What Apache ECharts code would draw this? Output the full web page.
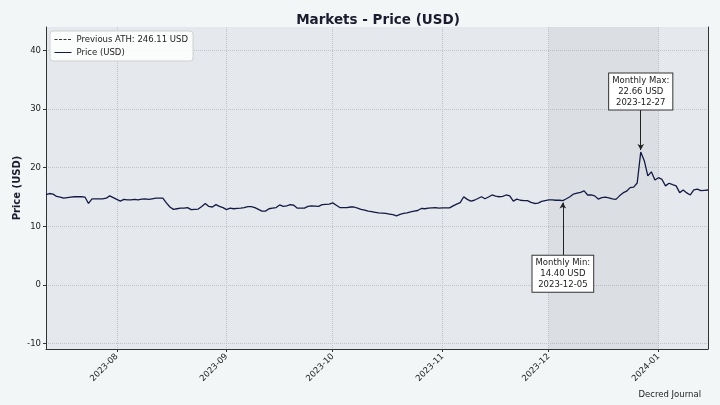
<!DOCTYPE html>
<html><head><meta charset="utf-8">
<script src="https://cdn.jsdelivr.net/npm/echarts@6/dist/echarts.min.js"></script>
<style>html,body{margin:0;padding:0;background:#f3f6f7;}#c{width:720px;height:405px;}</style>
</head><body><div id="c"></div>
<script>
// Daily prices (USD) starting 2023-07-12
const startDate = [2023, 6, 12];
const priceValues = [
 15.4, 15.6, 15.5, 15.1, 15.0, 14.8, 14.9, 15.0, 15.05, 15.05,
 15.05, 15.0, 13.9, 14.7, 14.7, 14.7, 14.7, 14.8, 15.2, 14.9,
 14.6, 14.3, 14.6, 14.5, 14.5, 14.6, 14.5, 14.65, 14.7, 14.6,
 14.7, 14.8, 14.8, 14.8, 14.0, 13.3, 12.9, 13.0, 13.1, 13.1,
 13.2, 12.85, 12.9, 12.95, 13.4, 13.9, 13.4, 13.3, 13.7, 13.4,
 13.2, 12.85, 13.1, 13.0, 13.05, 13.1, 13.2, 13.35, 13.35, 13.2,
 12.9, 12.6, 12.6, 13.0, 13.1, 13.2, 13.65, 13.4, 13.5, 13.7,
 13.6, 13.1, 13.1, 13.1, 13.4, 13.5, 13.45, 13.4, 13.7, 13.75,
 13.8, 14.0, 13.6, 13.2, 13.2, 13.2, 13.3, 13.3, 13.1, 12.9,
 12.75, 12.6, 12.5, 12.4, 12.3, 12.25, 12.2, 12.1, 12.0, 11.8,
 12.05, 12.2, 12.3, 12.45, 12.6, 12.7, 13.05, 13.0, 13.1, 13.15,
 13.2, 13.1, 13.15, 13.15, 13.15, 13.5, 13.8, 14.05, 15.05, 14.6,
 14.3, 14.45, 14.75, 15.05, 14.7, 15.0, 15.35, 15.15, 15.05, 15.1,
 15.35, 15.2, 14.3, 14.65, 14.45, 14.4, 14.4, 14.1, 13.9, 13.95,
 14.25, 14.4, 14.5, 14.5, 14.45, 14.45, 14.40, 14.7, 15.05, 15.5,
 15.65, 15.8, 16.05, 15.35, 15.35, 15.2, 14.65, 14.9, 15.0, 14.85,
 14.7, 14.6, 15.2, 15.7, 16.0, 16.6, 16.7, 17.4, 22.66, 21.2,
 18.6, 19.3, 17.9, 18.3, 18.0, 16.9, 17.35, 17.1, 16.9, 15.75,
 16.2, 15.7, 15.35, 16.2, 16.35, 16.1, 16.15, 16.2
];
const previousATH = 246.11;
const xTickLabels = ['2023-08', '2023-09', '2023-10', '2023-11', '2023-12', '2024-01'];
const yTickValues = [-10, 0, 10, 20, 30, 40];
const maxPoint = { date: '2023-12-27', value: 22.66 };
const minPoint = { date: '2023-12-05', value: 14.40 };
const shadeMonth = ['2023-12-01', '2024-01-01'];

function ts(s) { const p = s.split('-').map(Number); return new Date(p[0], p[1] - 1, p[2] || 1).getTime(); }
const priceData = priceValues.map((v, i) => [new Date(startDate[0], startDate[1], startDate[2] + i).getTime(), v]);
const xMin = priceData[0][0], xMax = priceData[priceData.length - 1][0];
const xTicks = xTickLabels.map(ts);
const athData = [[xMin, previousATH], [xMax, previousATH]];

const chart = echarts.init(document.getElementById('c'), null, { renderer: 'canvas' });
const font = 'DejaVu Sans';
const gridColor = '#c0c4cb';
chart.setOption({
  backgroundColor: '#f3f6f7',
  animation: false,
  textStyle: { fontFamily: font },
  title: { text: 'Markets - Price (USD)', left: 373, top: 8, textAlign: 'center',
    textStyle: { fontFamily: font, fontSize: 13.5, fontWeight: 'bold', color: '#1c1c2e' } },
  grid: { left: 46, right: 12, top: 27, bottom: 56, show: true, backgroundColor: '#e5e8ec', borderWidth: 0,
    outerBoundsMode: 'none', containLabel: false },
  legend: {
    orient: 'vertical', left: 50, top: 31, backgroundColor: 'rgba(255,255,255,0.85)',
    borderColor: '#d0d0d0', borderWidth: 1, borderRadius: 3, padding: [4, 5, 4, 4], itemGap: 4,
    itemWidth: 17, itemHeight: 8, itemStyle: { opacity: 0 }, lineStyle: { width: 1 },
    textStyle: { fontFamily: font, fontSize: 8.5, color: '#222' },
    data: ['Previous ATH: 246.11 USD', 'Price (USD)']
  },
  xAxis: {
    type: 'value', min: xMin, max: xMax, scale: true,
    axisLine: { show: true, onZero: false, lineStyle: { color: '#333', width: 1 } },
    axisTick: { show: true, length: 3, customValues: xTicks, lineStyle: { color: '#333' } },
    axisLabel: { customValues: xTicks, rotate: 45, fontSize: 8.5, color: '#222', fontFamily: font, margin: 6,
      formatter: v => { const i = xTicks.indexOf(v); return i >= 0 ? xTickLabels[i] : ''; } },
    splitLine: { show: true, lineStyle: { color: gridColor, type: [1, 1], width: 1 } }
  },
  yAxis: [{
    type: 'value', min: -10.92, max: 44.0,
    name: 'Price (USD)', nameLocation: 'middle', nameGap: 24, nameRotate: 90, nameMoveOverlap: false,
    nameTextStyle: { fontFamily: font, fontSize: 10, fontWeight: 'bold', color: '#1c1c2e' },
    axisLine: { show: true, onZero: false, lineStyle: { color: '#333', width: 1 } },
    axisTick: { show: true, length: 3, customValues: yTickValues, lineStyle: { color: '#333' } },
    axisLabel: { customValues: yTickValues, fontSize: 8.5, color: '#222', fontFamily: font, margin: 5 },
    splitLine: { show: true, lineStyle: { color: gridColor, type: [1, 1], width: 1 } }
  }, {
    type: 'value', min: -10.92, max: 44.0, position: 'right',
    axisLine: { show: true, onZero: false, lineStyle: { color: '#333', width: 1 } },
    axisTick: { show: false }, axisLabel: { show: false }, splitLine: { show: false }
  }],
  series: [{
    name: 'Previous ATH: 246.11 USD', type: 'line', data: athData, symbol: 'none', clip: true,
    lineStyle: { color: '#333', width: 1, type: [3, 1.5] }, itemStyle: { color: '#333' }
  }, {
    name: 'Price (USD)', type: 'line', data: priceData, symbol: 'none', clip: true,
    lineStyle: { color: '#141a45', width: 1.3 }, itemStyle: { color: '#141a45' },
    markArea: { silent: true, itemStyle: { color: 'rgba(40,50,80,0.05)' },
      data: [[{ xAxis: ts(shadeMonth[0]) }, { xAxis: ts(shadeMonth[1]) }]] },
    markLine: { silent: true, symbol: ['none', 'arrow'], symbolSize: [5, 6], label: { show: false },
      lineStyle: { color: '#222', width: 1, type: 'solid' },
      data: [
        [{ coord: [ts(maxPoint.date), 30.4] }, { coord: [ts(maxPoint.date), maxPoint.value + 0.35] }],
        [{ coord: [ts(minPoint.date), 4.6] }, { coord: [ts(minPoint.date), minPoint.value - 0.35] }]
      ] },
    markPoint: { silent: true, symbol: 'circle', symbolSize: 1, itemStyle: { color: 'rgba(0,0,0,0)' },
      label: { show: true, position: 'inside', color: '#222', fontFamily: font, fontSize: 8.5, lineHeight: 11,
        backgroundColor: '#fff', borderColor: '#333', borderWidth: 1, padding: [2, 3, 1, 3], align: 'center' },
      data: [
        { coord: [ts(maxPoint.date), 33.0], value: 0,
          label: { formatter: 'Monthly Max:\n' + maxPoint.value.toFixed(2) + ' USD\n' + maxPoint.date } },
        { coord: [ts(minPoint.date), 1.9], value: 0,
          label: { formatter: 'Monthly Min:\n' + minPoint.value.toFixed(2) + ' USD\n' + minPoint.date } }
      ] }
  }],
  graphic: [{ type: 'text', right: 19, bottom: 6,
    style: { text: 'Decred Journal', fontFamily: font, fontSize: 8.5, fill: '#222' } }]
});
</script></body></html>
